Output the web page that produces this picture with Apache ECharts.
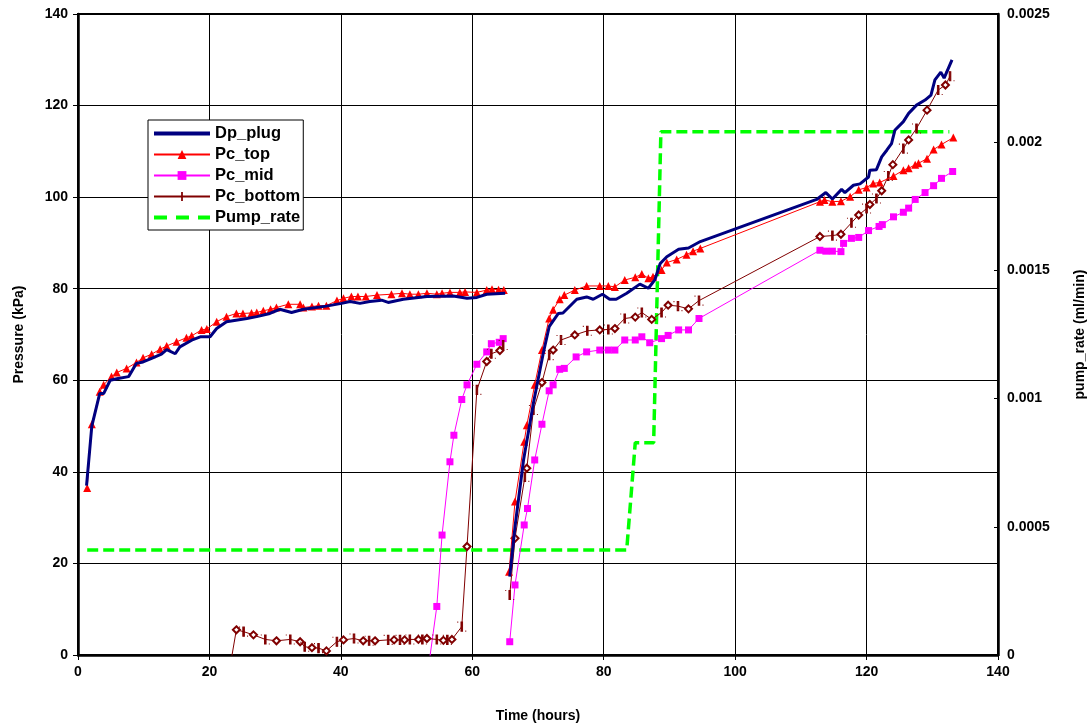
<!DOCTYPE html>
<html>
<head>
<meta charset="utf-8">
<script src="https://cdn.jsdelivr.net/npm/echarts@6/dist/echarts.min.js"></script>
<style>html,body{margin:0;padding:0;background:#fff;overflow:hidden}#c{width:1091px;height:727px}</style>
</head>
<body>
<div id="c"></div>
<script>
// ---- Data ----
const xTicks = [0, 20, 40, 60, 80, 100, 120, 140];

const dpX = [1.3, 2.1, 3.3, 3.9, 4.9, 6.1, 7.7, 8.9, 9.9, 11.2, 12.7, 13.5, 14.8, 15.5, 17.5, 18.6, 20.1, 21.1, 22.6, 25.7, 27.2, 29.2, 30.7, 32.5, 34.3, 37.8, 40.1, 41.4, 42.9, 44.4, 46.2, 47.2, 49.5, 53.1, 57.1, 59.2, 60.7, 62.2, 65,
  65.3,
  65.7, 66.5, 67.8, 69.3, 70.8, 71.7, 73.1, 73.8, 75.9, 77.4, 78.4, 79.8, 80.9, 81.9, 83.5, 85.5, 86.8, 87.8, 88.6, 89.6, 91.4, 92.9, 94.7, 112.4, 113.8, 114.8, 116.2, 116.7, 118, 119, 120.3, 120.5, 121.5, 122.3, 123.1, 123.8, 124.3, 125.6, 126.4, 127.6, 128.9, 129.8, 130.4, 131.3, 131.8, 133];
const dpY = [37, 50, 57.1, 57.1, 60, 60.4, 60.8, 63.7, 64, 64.8, 65.7, 66.7, 65.8, 67.3, 68.9, 69.5, 69.5, 71.3, 72.8, 73.5, 73.9, 74.6, 75.5, 74.8, 75.5, 76.2, 76.8, 77.2, 76.8, 77.2, 77.5, 77, 77.7, 78.3, 78.4, 77.9, 78.1, 78.8, 79,
  null,
  17.1, 28, 42.6, 55, 65.9, 71.7, 74.6, 74.7, 77.7, 78.2, 77.7, 78.8, 77.7, 77.7, 79, 81, 80.1, 82, 85.5, 87, 88.6, 88.9, 90.3, 99.5, 101, 99.6, 101.7, 101, 102.6, 102.9, 104.4, 105.9, 106, 108.8, 110.3, 111.7, 114.6, 116.5, 118.3, 120.1, 121.2, 122.3, 125.6, 127.3, 126, 130];

const topX = [1.4, 2.1, 3.3, 3.9, 5.1, 5.9, 7.4, 8.9, 9.9, 11.2, 12.5, 13.5, 15, 16.5, 17.3, 18.8, 19.6, 21.1, 22.6, 24.1, 25.1, 26.4, 27.2, 28.2, 29.3, 30.2, 32, 33.8, 34.3, 35.6, 36.6, 37.8, 39.4, 40.4, 41.6, 42.6, 43.8, 45.5, 47.7, 49.3, 50.5, 51.8, 53.1, 54.6, 55.4, 56.6, 58.1, 58.9, 60.7, 62.2, 63, 64, 64.8,
  65.2,
  65.6, 66.5, 67.9, 68.3, 69.5, 70.6, 71.7, 72.3, 73.3, 74, 75.6, 77.4, 79.4, 80.7, 81.7, 83.2, 84.8, 85.8, 86.8, 87.5, 88.8, 89.6, 91.1, 92.6, 93.6, 94.7, 112.9, 113.6, 114.8, 116.1, 117.5, 118.8, 120, 121, 122, 124.1, 125.6, 126.4, 127.4, 127.9, 129.2, 130.2, 131.4, 133.2];
const topY = [36.5, 50.4, 57.5, 59, 60.8, 61.7, 62.6, 63.9, 64.9, 65.7, 66.8, 67.5, 68.4, 69.3, 69.7, 71, 71.2, 72.8, 73.9, 74.6, 74.6, 74.7, 74.8, 75.2, 75.5, 75.9, 76.6, 76.6, 75.9, 76.1, 76.3, 76.3, 77.4, 77.9, 78.3, 78.3, 78.3, 78.6, 78.8, 79, 78.8, 78.8, 79, 78.8, 79, 79.2, 79.2, 79.3, 79.2, 79.7, 79.9, 79.8, 79.7,
  null,
  18.2, 33.5, 46.6, 50.2, 59, 66.6, 73.5, 75.4, 77.7, 78.6, 79.7, 80.6, 80.6, 80.6, 80.4, 81.9, 82.5, 83.2, 82.3, 82.6, 84.1, 85.7, 86.4, 87.4, 88.2, 88.8, 99, 99.4, 99, 99.1, 100.1, 101.6, 102.1, 103, 103.2, 104.6, 105.9, 106.3, 107.1, 107.4, 108.4, 110.4, 111.5, 113];

const midX = [53.4, 54.6, 55.4, 56.6, 57.2, 58.4, 59.2, 60.7, 62.2, 62.9, 64.1, 64.7,
  65.2,
  65.7, 66.5, 67.9, 68.4, 69.5, 70.6, 71.7, 72.3, 73.3, 74, 75.8, 77.4, 79.4, 80.7, 81.7, 83.2, 84.8, 85.8, 87, 88.8, 89.8, 91.4, 92.9, 94.5, 112.9, 113.8, 114.8, 116.1, 116.5, 117.7, 118.8, 120.3, 121.9, 122.4, 124.1, 125.6, 126.4, 127.4, 128.9, 130.2, 131.4, 133.1];
const midY = [-2, 10.6, 26.2, 42.2, 48, 55.8, 59, 63.5, 66.2, 68, 68.3, 69.1,
  null,
  2.9, 15.3, 28.4, 32, 42.6, 50.4, 57.7, 59, 62.4, 62.6, 65.1, 66.2, 66.6, 66.6, 66.6, 68.8, 68.8, 69.5, 68.2, 69.1, 69.8, 71, 71, 73.5, 88.4, 88.2, 88.2, 88.1, 89.9, 91, 91.2, 92.7, 93.6, 94, 95.7, 96.7, 97.6, 99.5, 101, 102.5, 104.1, 105.6];

const botX = [23.2, 24.1, 25.2, 26.7, 28.5, 30.2, 32.3, 33.8, 34.5, 35.6, 36.6, 37.8, 39.4, 40.4, 42, 43.4, 44.3, 45.2, 47.2, 48.1, 49, 49.7, 50.5, 51.8, 52.4, 53.1, 54.6, 55.6, 56.2, 56.9, 58.4, 59.2, 60.7, 62.2, 62.9, 64.2, 64.7,
  65.2,
  65.7, 66.5, 68, 68.3, 69.3, 70.6, 71.7, 72.3, 73.5, 75.6, 77.5, 79.4, 80.7, 81.7, 83.2, 84.8, 85.8, 87.3, 88.8, 89.8, 91.3, 92.9, 94.5, 112.9, 114.8, 116.1, 117.7, 118.8, 120, 120.5, 121.5, 122.3, 123.3, 124, 125.6, 126.4, 127.6, 129.2, 130.9, 132, 132.7];
const botY = [-2, 5.5, 5.1, 4.4, 3.4, 3.1, 3.4, 2.9, 1.8, 1.6, 1.5, 0.9, 2.9, 3.3, 3.6, 3.1, 3.1, 3.1, 3.3, 3.3, 3.3, 3.3, 3.4, 3.4, 3.4, 3.6, 3.4, 3.2, 3.3, 3.4, 6.2, 23.7, 57.9, 64.1, 65.8, 66.5, 67.7,
  null,
  13.1, 25.5, 38.9, 40.8, 53.5, 59.5, 65.5, 66.6, 68.8, 69.9, 70.8, 71, 71.1, 71.3, 73.5, 73.8, 74.8, 73.3, 74.8, 76.4, 76.2, 75.6, 77.4, 91.4, 91.6, 91.9, 94.4, 96.1, 97.5, 98.4, 99.7, 101.4, 104.6, 107.1, 110.6, 112.5, 115, 119, 123.4, 124.5, 126.4];

const pumpX = [1.4, 83.5, 84.8, 87.6, 88.7, 132.6];
const pumpY = [0.00041, 0.00041, 0.000828, 0.000828, 0.002041, 0.002041];

// ---- build ----
function zip(xs, ys) { return xs.map((x, i) => [x, ys[i] === null ? '-' : ys[i]]); }
const botData = zip(botX, botY).map((d, i) => i % 2 === 0
  ? { value: d }
  : { value: d, symbol: 'emptyDiamond', symbolSize: 7 });

// thin vertical bar centred in a square box (tiny corner specks fix the box)
const BAR = 'path://M0,0h0.01v0.01h-0.01z M8.99,8.99h0.01v0.01h-0.01z M3.6,0h1.8v9h-1.8z';
const FONT = 'Liberation Sans, Arial, sans-serif';
const chart = echarts.init(document.getElementById('c'), null, { renderer: 'canvas' });
chart.setOption({
  animation: false,
  backgroundColor: '#fff',
  grid: { left: 78, right: 93, top: 14, bottom: 72, containLabel: false, outerBoundsMode: 'none',
    show: true, borderColor: '#000', borderWidth: 2, backgroundColor: 'transparent' },
  legend: {
    orient: 'vertical', left: 148, top: 120,
    padding: [5, 3, 4, 4], itemGap: 4, itemWidth: 56, itemHeight: 11,
    backgroundColor: '#fff', borderColor: '#000', borderWidth: 1, borderRadius: 0,
    textStyle: { fontFamily: FONT, fontSize: 16.5, fontWeight: 'bold', color: '#000', lineHeight: 17 },
    data: [
      { name: 'Dp_plug', itemStyle: { opacity: 0 }, lineStyle: { width: 4 } },
      { name: 'Pc_top' },
      { name: 'Pc_mid' },
      { name: 'Pc_bottom' },
      { name: 'Pump_rate', itemStyle: { opacity: 0 }, lineStyle: { width: 4, type: [13, 9] } }
    ]
  },
  xAxis: {
    type: 'value', min: 0, max: 140, interval: 20,
    name: 'Time (hours)', nameLocation: 'middle', nameGap: 54,
    nameTextStyle: { fontFamily: FONT, fontSize: 14, fontWeight: 'bold', color: '#000' },
    axisLine: { onZero: false, lineStyle: { color: '#000', width: 2.5 } },
    axisTick: { show: true, length: 5, lineStyle: { color: '#000', width: 1 } },
    axisLabel: { fontFamily: FONT, fontSize: 14, fontWeight: 'bold', color: '#000', margin: 10,
      formatter: v => xTicks.includes(v) ? String(v) : '' },
    splitLine: { show: true, lineStyle: { color: '#000', width: 1 } }
  },
  yAxis: [{
    type: 'value', min: 0, max: 140, interval: 20,
    name: 'Pressure (kPa)', nameLocation: 'middle', nameGap: 52, nameRotate: 90,
    nameTextStyle: { fontFamily: FONT, fontSize: 14, fontWeight: 'bold', color: '#000' },
    axisLine: { show: true, onZero: false, lineStyle: { color: '#000', width: 2.5 } },
    axisTick: { show: true, length: 5, lineStyle: { color: '#000', width: 1 } },
    axisLabel: { fontFamily: FONT, fontSize: 14, fontWeight: 'bold', color: '#000', margin: 10 },
    splitLine: { show: true, lineStyle: { color: '#000', width: 1 } }
  }, {
    type: 'value', min: 0, max: 0.0025, interval: 0.0005, position: 'right',
    name: 'pump_rate (ml/min)', nameLocation: 'middle', nameGap: 75, nameRotate: 90,
    nameTextStyle: { fontFamily: FONT, fontSize: 14, fontWeight: 'bold', color: '#000', verticalAlign: 'top' },
    axisLine: { show: true, onZero: false, lineStyle: { color: '#000', width: 2.5 } },
    axisTick: { show: true, inside: true, length: 4, lineStyle: { color: '#000', width: 1 } },
    axisLabel: { fontFamily: FONT, fontSize: 14, fontWeight: 'bold', color: '#000', margin: 9,
      formatter: v => String(parseFloat(v.toFixed(4))) },
    splitLine: { show: false }
  }],
  series: [{
    name: 'Dp_plug', type: 'line', data: zip(dpX, dpY), showSymbol: false, symbol: 'none',
    lineStyle: { color: '#000080', width: 3 }, itemStyle: { color: '#000080' }, z: 5, connectNulls: false
  }, {
    name: 'Pc_top', type: 'line', data: zip(topX, topY), symbol: 'triangle', symbolSize: 8,
    lineStyle: { color: '#ff0000', width: 1 }, itemStyle: { color: '#ff0000' }, z: 4
  }, {
    name: 'Pc_mid', type: 'line', data: zip(midX, midY), symbol: 'rect', symbolSize: 7,
    lineStyle: { color: '#ff00ff', width: 1 }, itemStyle: { color: '#ff00ff' }, z: 3
  }, {
    name: 'Pc_bottom', type: 'line', data: botData, symbol: BAR, symbolSize: [8, 9], symbolKeepAspect: false,
    lineStyle: { color: '#800000', width: 1 }, itemStyle: { color: '#800000', borderColor: '#800000' }, z: 3
  }, {
    name: 'Pump_rate', type: 'line', yAxisIndex: 1, data: zip(pumpX, pumpY), showSymbol: false, symbol: 'none',
    lineStyle: { color: '#00ff00', width: 3.5, type: [11, 5] }, itemStyle: { color: '#00ff00' }, z: 2
  }]
});
</script>
</body>
</html>
